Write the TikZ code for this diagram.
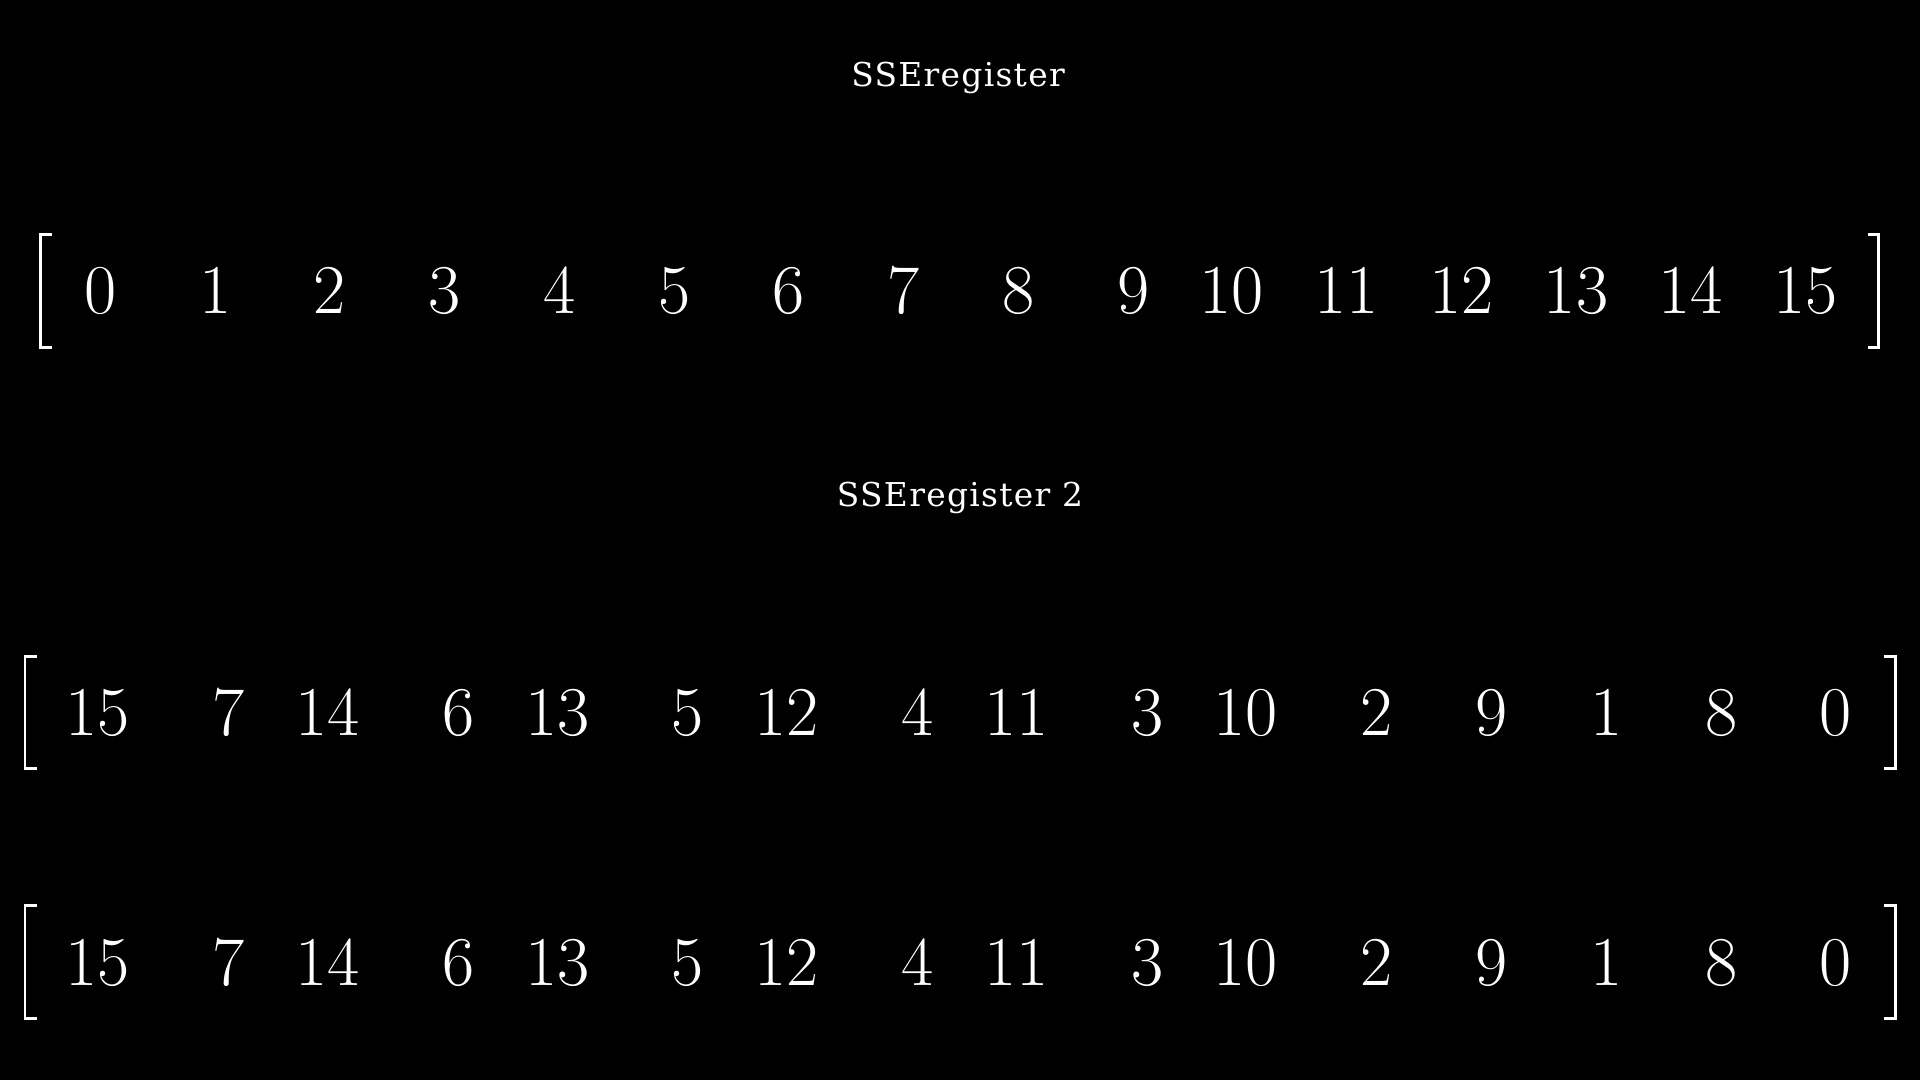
\documentclass[tikz,border=0pt]{standalone}
\usepackage{fontspec}
\newfontfamily\titlefont[LetterSpace=4]{DejaVu Serif}
\begin{document}
\begin{tikzpicture}[x=0.02cm,y=-0.02cm,
  every node/.style={text=white,inner sep=0pt,outer sep=0pt},
  num/.style={anchor=base east,font=\fontsize{39.8}{48}\selectfont},
  ttl/.style={anchor=base,font=\titlefont\fontsize{18.7}{22}\selectfont},
  brk/.style={draw=white,line width=1.7pt,line cap=butt,line join=miter}]
\fill[black] (0,0) rectangle (1920,1080);
\useasboundingbox (0,0) rectangle (1920,1080);
% titles
\node[ttl] (t1) at (958,86.7) {SSEregister};
\node[ttl] (t2) at (960,506.7) {SSEregister 2};
% row 1
\foreach \v [count=\i from 0] in {0,1,2,3,4,5,6,7,8,9,10,11,12,13,14,15}
  \node[num] (a\i) at ({116.5+114.74*\i},313.3) {\v};
% row 2 and 3
\foreach \v [count=\i from 0] in {15,7,14,6,13,5,12,4,11,3,10,2,9,1,8,0}{
  \node[num] (b\i) at ({130+114.8*\i},735.5) {\v};
  \node[num] (c\i) at ({130+114.8*\i},985) {\v};
}
% brackets
\draw[brk] (52,234) -- (40.5,234) -- (40.5,347) -- (52,347);
\draw[brk] (1868,234) -- (1878.7,234) -- (1878.7,347) -- (1868,347);
\draw[brk] (36.5,656) -- (25,656) -- (25,768) -- (36.5,768);
\draw[brk] (1883.5,656) -- (1895,656) -- (1895,768) -- (1883.5,768);
\draw[brk] (36.5,905.7) -- (25,905.7) -- (25,1018) -- (36.5,1018);
\draw[brk] (1883.5,905.7) -- (1895,905.7) -- (1895,1018) -- (1883.5,1018);
\end{tikzpicture}
\end{document}
